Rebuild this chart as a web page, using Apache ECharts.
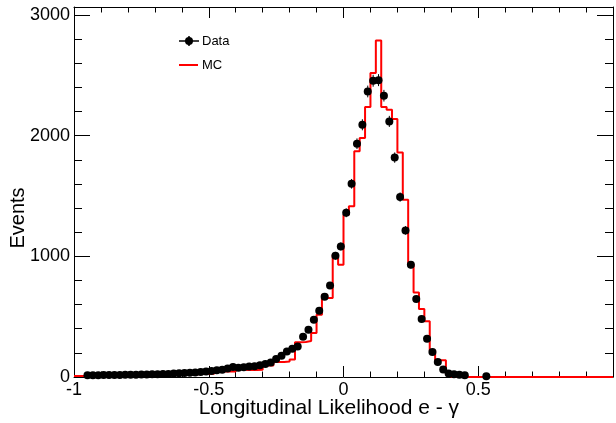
<!DOCTYPE html>
<html>
<head>
<meta charset="utf-8">
<script src="https://cdn.jsdelivr.net/npm/echarts@6/dist/echarts.min.js"></script>
<style>
html,body{margin:0;padding:0;background:#fff}
#chart{width:616px;height:423px}
</style>
</head>
<body>
<div id="chart"></div>
<script>
// Histogram binning: 100 bins over [-1, 1]
const xMin = -1;
const xMax = 1;
const nBins = 100;

// Measured events per bin (null = empty bin, not drawn)
const dataCounts = [
  null, null, 14, 15, 15, 16, 16, 17, 17, 18,
  18, 19, 20, 21, 22, 23, 24, 25, 30, 32,
  34, 36, 38, 41, 45, 50, 55, 60, 70, 82,
  76, 80, 86, 90, 97, 108, 121, 149, 176, 212,
  234, 253, 334, 392, 475, 549, 665, 759, 1005, 1082,
  1361, 1601, 1933, 2090, 2366, 2455, 2460, 2331, 2118, 1818,
  1491, 1215, 930, 646, 480, 317, 207, 125, 62, 30,
  22, 18, 15, null, null, null, 6, null, null, null,
  null, null, null, null, null, null, null, null, null, null,
  null, null, null, null, null, null, null, null, null, null
];

// Simulated (MC) events per bin
const mcCounts = [
  8, 9, 9, 10, 10, 10, 11, 11, 12, 12,
  13, 13, 14, 14, 15, 16, 16, 17, 18, 19,
  20, 21, 22, 26, 27, 27, 45, 45, 45, 46,
  75, 75, 58, 58, 60, 95, 95, 125, 125, 128,
  145, 287, 290, 298, 364, 516, 682, 655, 1013, 930,
  1345, 1414, 1870, 1980, 2237, 2519, 2789, 2237, 2215, 2138,
  1861, 1469, 930, 701, 563, 461, 220, 138, 138, 25,
  0, 0, 0, 0, 0, 0, 0, 0, 0, 0,
  0, 0, 0, 0, 0, 0, 0, 0, 0, 0,
  0, 0, 0, 0, 0, 0, 0, 0, 0, 0
];

// Axis ticks
const xTickLabels = [-1, -0.5, 0, 0.5];
const yTickLabels = [0, 1000, 2000, 3000];
const yMax = 3066;

const binW = (xMax - xMin) / nBins;
const FONT = '"Liberation Sans", Arial, Helvetica, sans-serif';

// MC outline as a step histogram: each bin contributes its left and right edge
const mcOutline = [];
mcCounts.forEach((v, i) => {
  mcOutline.push([xMin + i * binW, v]);
  mcOutline.push([xMin + (i + 1) * binW, v]);
});

// Data points with Poisson errors
const dataPoints = [];
dataCounts.forEach((v, i) => {
  if (v === null) return;
  dataPoints.push([xMin + (i + 0.5) * binW, v, Math.sqrt(v)]);
});

const fmtNum = v => {
  const hit = xTickLabels.find(t => Math.abs(t - v) < 1e-9);
  return hit === undefined ? '' : String(hit);
};
const fmtY = v => (yTickLabels.indexOf(Math.round(v)) >= 0 && Math.abs(v - Math.round(v)) < 1e-6) ? String(Math.round(v)) : '';

const black = '#000';
const baseX = {
  type: 'value', min: xMin, max: xMax, interval: 0.5,
  splitLine: {show: false},
  axisLine: {show: true, onZero: false, lineStyle: {color: black, width: 1}},
  axisTick: {show: true, inside: true, length: 11, lineStyle: {color: black, width: 1}},
  minorTick: {show: true, splitNumber: 5, length: 5.5, lineStyle: {color: black, width: 1}},
  minorSplitLine: {show: false}
};
function yAxisDef(pos, interval, tickLen, labels, line) {
  return {
    type: 'value', position: pos, min: 0, max: yMax, interval: interval,
    splitLine: {show: false},
    axisLine: {show: line, onZero: false, lineStyle: {color: black, width: 1}},
    axisTick: {show: true, inside: true, length: tickLen, lineStyle: {color: black, width: 1}},
    axisLabel: labels ? {show: true, formatter: fmtY, fontSize: 18, fontFamily: FONT, color: black, margin: 4}
                      : {show: false}
  };
}

const chart = echarts.init(document.getElementById('chart'), null, {renderer: 'canvas'});
chart.setOption({
  animation: false,
  backgroundColor: '#fff',
  grid: {left: 74, top: 7, width: 543, height: 370, containLabel: false},
  xAxis: [
    Object.assign({}, baseX, {
      position: 'bottom',
      axisLabel: {show: true, formatter: fmtNum, fontSize: 18, fontFamily: FONT, color: black, margin: 4}
    }),
    Object.assign({}, baseX, {position: 'top', axisLabel: {show: false}})
  ],
  yAxis: [
    yAxisDef('left', 1000, 16, true, true),
    yAxisDef('left', 200, 8, false, false),
    yAxisDef('right', 1000, 16, false, true),
    yAxisDef('right', 200, 8, false, false)
  ],
  series: [
    {
      name: 'MC', type: 'line', data: mcOutline, xAxisIndex: 0, yAxisIndex: 0,
      symbol: 'none', lineStyle: {color: '#ff0000', width: 2}, color: '#ff0000', z: 3
    },
    {
      name: 'DataErr', type: 'custom', xAxisIndex: 0, yAxisIndex: 0, z: 4,
      data: dataPoints,
      renderItem: function (params, api) {
        const x = api.value(0), y = api.value(1), e = api.value(2);
        const lo = api.coord([x, Math.max(0, y - e)]);
        const hi = api.coord([x, y + e]);
        const l = api.coord([x - binW / 2, y]);
        const r = api.coord([x + binW / 2, y]);
        const st = {stroke: black, lineWidth: 1};
        return {type: 'group', children: [
          {type: 'line', shape: {x1: lo[0], y1: lo[1], x2: hi[0], y2: hi[1]}, style: st},
          {type: 'line', shape: {x1: l[0], y1: l[1], x2: r[0], y2: r[1]}, style: st}
        ]};
      }
    },
    {
      name: 'Data', type: 'scatter', xAxisIndex: 0, yAxisIndex: 0, z: 5,
      data: dataPoints.map(p => [p[0], p[1]]),
      symbol: 'circle', symbolSize: 8, itemStyle: {color: black, opacity: 1}
    }
  ],
  graphic: [
    // legend
    {type: 'line', shape: {x1: 179, y1: 41, x2: 199, y2: 41}, style: {stroke: black, lineWidth: 1.5}},
    {type: 'line', shape: {x1: 189, y1: 36, x2: 189, y2: 46}, style: {stroke: black, lineWidth: 1.5}},
    {type: 'circle', shape: {cx: 189, cy: 41, r: 4}, style: {fill: black}},
    {type: 'text', x: 202, y: 41, style: {text: 'Data', fill: black, font: '13px ' + FONT, textAlign: 'left', textVerticalAlign: 'middle'}},
    {type: 'line', shape: {x1: 179, y1: 65, x2: 198, y2: 65}, style: {stroke: '#ff0000', lineWidth: 2}},
    {type: 'text', x: 202, y: 65, style: {text: 'MC', fill: black, font: '13px ' + FONT, textAlign: 'left', textVerticalAlign: 'middle'}},
    // axis titles
    {type: 'text', x: 459, y: 408, style: {text: 'Longitudinal Likelihood e - γ', fill: black, font: '21px ' + FONT, textAlign: 'right', textVerticalAlign: 'middle'}},
    {type: 'text', x: 18, y: 218, rotation: Math.PI / 2, style: {text: 'Events', fill: black, font: '20px ' + FONT, textAlign: 'center', textVerticalAlign: 'middle'}}
  ]
});
</script>
</body>
</html>
